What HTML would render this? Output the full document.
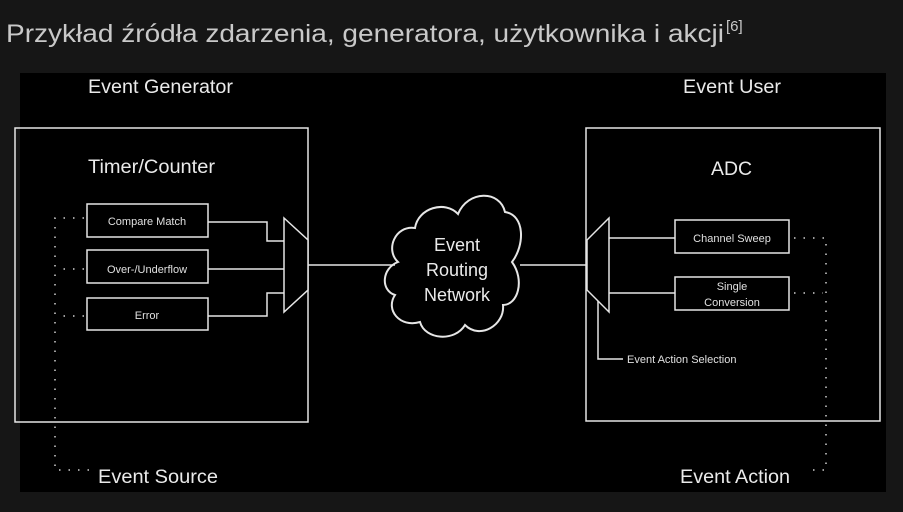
<!DOCTYPE html>
<html><head><meta charset="utf-8"><style>
html,body{margin:0;padding:0;background:#151515;}
svg{display:block;}
</style></head><body>
<svg width="903" height="512" viewBox="0 0 903 512" xmlns="http://www.w3.org/2000/svg" font-family="Liberation Sans, Arial, sans-serif">
<rect width="903" height="512" fill="#161616"/>
<text x="6" y="42" font-size="25" fill="#c9c9c9" textLength="718" lengthAdjust="spacingAndGlyphs">Przykład źródła zdarzenia, generatora, użytkownika i akcji</text>
<text x="726" y="31" font-size="15" fill="#c9c9c9">[6]</text>
<rect x="20" y="73" width="866" height="419" fill="#000"/>
<g fill="none" stroke="#e6e6e6" stroke-width="1.5">
<rect x="15" y="128" width="293" height="294"/>
<rect x="586" y="128" width="294" height="293"/>
<rect x="87" y="204" width="121" height="33"/>
<rect x="87" y="250" width="121" height="33"/>
<rect x="87" y="298" width="121" height="32"/>
<rect x="675" y="220" width="114" height="33"/>
<rect x="675" y="277" width="114" height="33"/>
<polygon points="284,218 308,240 308,290 284,312" fill="#000"/>
<polygon points="609,218 587,240 587,290 609,312" fill="#000"/>
<polyline points="208,222 267,222 267,241 284,241"/>
<line x1="208" y1="269" x2="284" y2="269"/>
<polyline points="208,316 267,316 267,293 284,293"/>
<line x1="308" y1="265" x2="395" y2="265"/>
<line x1="520" y1="265" x2="586" y2="265"/>
<line x1="609" y1="238" x2="675" y2="238"/>
<line x1="609" y1="293" x2="675" y2="293"/>
<polyline points="598,301 598,359 623,359"/>
<path d="M398,262 C385,250 395,225 415,228 C418,208 445,200 458,214 C468,190 500,190 505,212 C525,215 525,245 512,262 C525,280 518,305 503,305 C505,325 480,340 465,325 C455,342 425,340 420,322 C400,328 385,310 395,295 C380,290 382,268 398,262 Z" stroke-width="2"/>
</g>
<g fill="none" stroke="#d0d0d0" stroke-width="1.5" stroke-dasharray="1.5 8">
<polyline points="84,218 55,218 55,470 90,470"/>
<line x1="84" y1="269" x2="58" y2="269"/>
<line x1="84" y1="316" x2="58" y2="316"/>
<polyline points="794,238 826,238 826,470 812,470"/>
<line x1="794" y1="293" x2="823" y2="293"/>
</g>
<g fill="#eaeaea" font-size="19" lengthAdjust="spacingAndGlyphs">
<text x="88" y="93" textLength="145" lengthAdjust="spacingAndGlyphs">Event Generator</text>
<text x="683" y="93" textLength="98" lengthAdjust="spacingAndGlyphs">Event User</text>
<text x="88" y="173" textLength="127" lengthAdjust="spacingAndGlyphs">Timer/Counter</text>
<text x="711" y="175" textLength="41" lengthAdjust="spacingAndGlyphs">ADC</text>
<text x="98" y="483" textLength="120" lengthAdjust="spacingAndGlyphs">Event Source</text>
<text x="680" y="483" textLength="110" lengthAdjust="spacingAndGlyphs">Event Action</text>
</g>
<g fill="#eaeaea" font-size="18" text-anchor="middle">
<text x="457" y="251">Event</text>
<text x="457" y="276">Routing</text>
<text x="457" y="301">Network</text>
</g>
<g fill="#e0e0e0" font-size="11" text-anchor="middle">
<text x="147" y="225">Compare Match</text>
<text x="147" y="273">Over-/Underflow</text>
<text x="147" y="319">Error</text>
<text x="732" y="242">Channel Sweep</text>
<text x="732" y="290">Single</text>
<text x="732" y="306">Conversion</text>
<text x="627" y="363" text-anchor="start">Event Action Selection</text>
</g>
</svg>
</body></html>
